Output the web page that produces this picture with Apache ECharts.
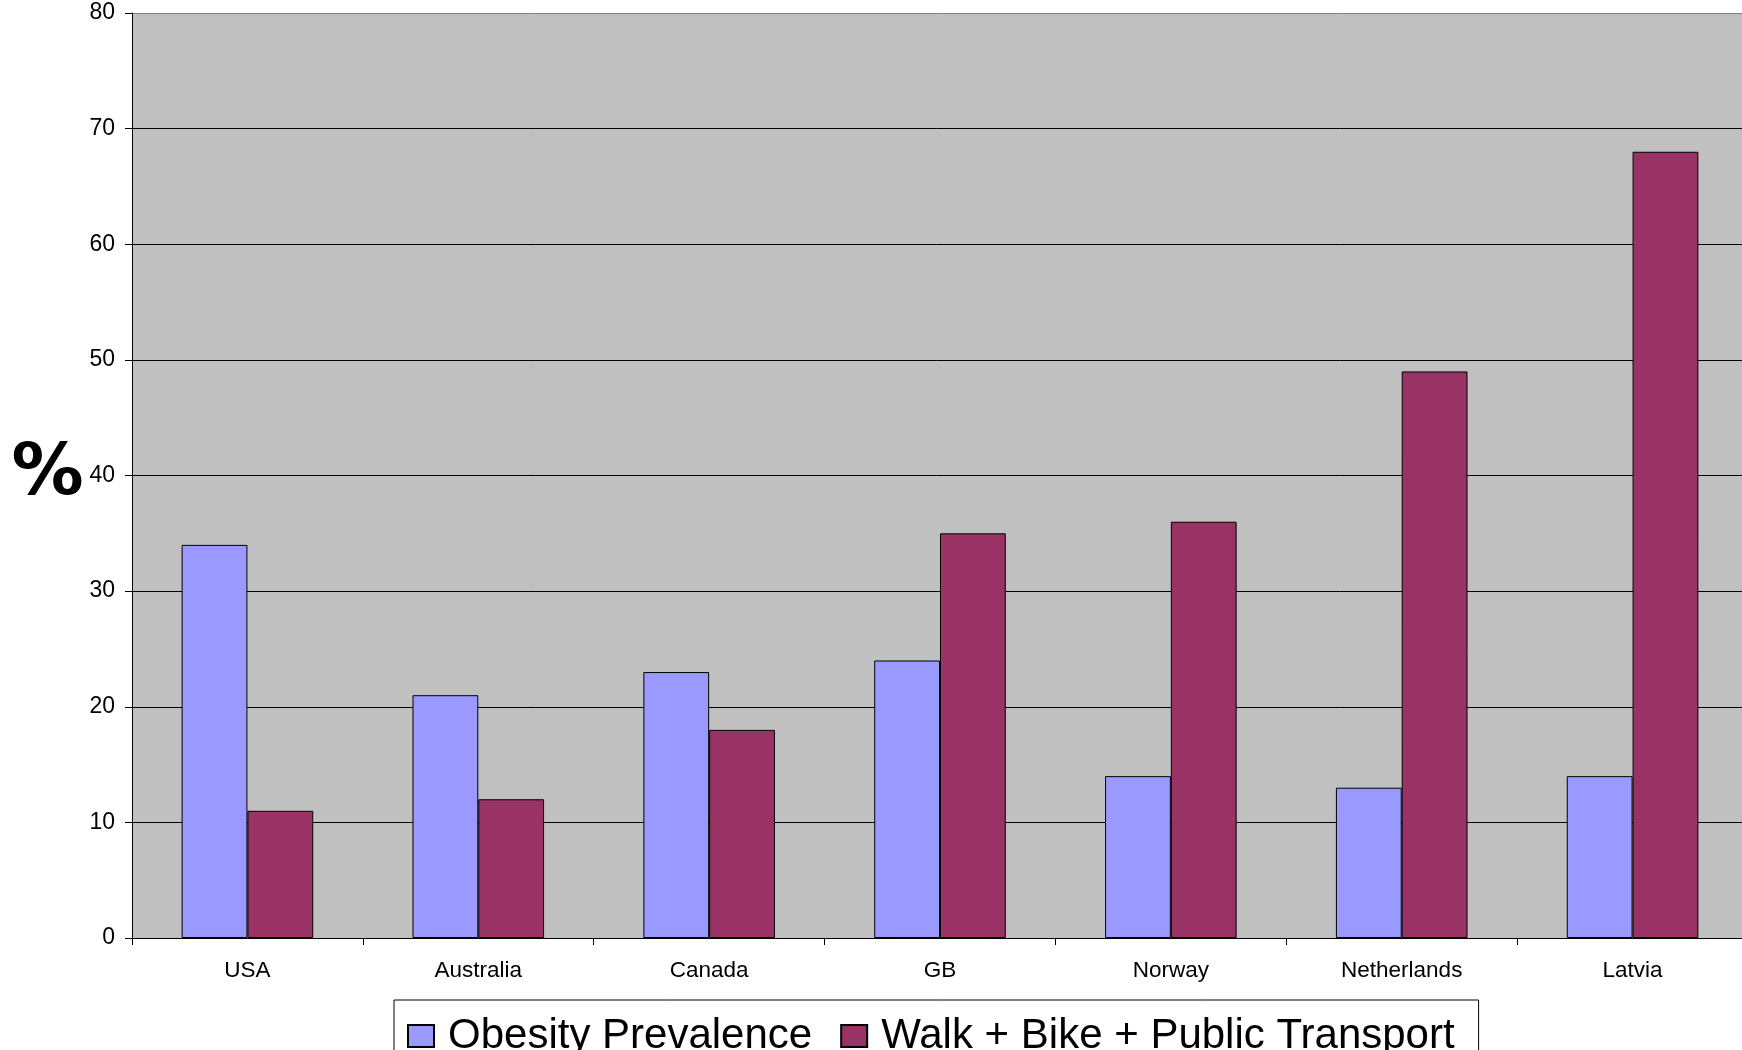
<!DOCTYPE html>
<html>
<head>
<meta charset="utf-8">
<script src="https://cdn.jsdelivr.net/npm/echarts@6/dist/echarts.min.js"></script>
<style>
html,body{margin:0;padding:0;background:#fff;}
#chart{width:1742px;height:1050px;}
</style>
</head>
<body>
<div id="chart"></div>
<script>
var categories = ['USA', 'Australia', 'Canada', 'GB', 'Norway', 'Netherlands', 'Latvia'];
var obesity = [34, 21, 23, 24, 14, 13, 14];
var activeTravel = [11, 12, 18, 35, 36, 49, 68];
var seriesNames = ['Obesity Prevalence', 'Walk + Bike + Public Transport'];
var axisName = '%';

var chart = echarts.init(document.getElementById('chart'), null, {renderer: 'canvas'});
chart.setOption({
  animation: false,
  backgroundColor: '#ffffff',
  grid: {
    left: 132, right: -6, top: 13, bottom: 112,
    outerBoundsMode: 'none',
    containLabel: false,
    show: true, backgroundColor: '#C0C0C0', borderWidth: 0
  },
  legend: {
    left: 394, top: 1000,
    data: seriesNames,
    orient: 'horizontal',
    itemWidth: 26, itemHeight: 22, itemGap: 28,
    padding: [15, 24, 16, 13],
    borderColor: '#000', borderWidth: 1,
    backgroundColor: '#fff',
    icon: 'rect',
    textStyle: {fontFamily: 'Liberation Sans', fontSize: 42, color: '#000', padding: [0, 0, 0, 9]}
  },
  xAxis: {
    type: 'category',
    data: categories,
    axisLine: {lineStyle: {color: '#000', width: 1}},
    axisTick: {show: true, length: 7, lineStyle: {color: '#000'}},
    axisLabel: {fontFamily: 'Liberation Sans', fontSize: 22.5, color: '#000', margin: 21}
  },
  yAxis: {
    type: 'value',
    min: 0, max: 80, interval: 10,
    name: axisName,
    nameLocation: 'middle',
    nameRotate: 0,
    nameGap: 46,
    nameTextStyle: {fontFamily: 'DejaVu Sans', fontWeight: 'bold', fontSize: 72, color: '#000', padding: [12, 0, 0, 0]},
    axisLine: {show: true, lineStyle: {color: '#000', width: 1}},
    axisTick: {show: true, length: 7, lineStyle: {color: '#000'}},
    axisLabel: {fontFamily: 'Liberation Sans', fontSize: 23, color: '#000', margin: 17},
    splitLine: {show: true, lineStyle: {color: ['#000','#000','#000','#000','#000','#000','#000','#000','#808080'], width: 1}}
  },
  series: [
    {
      name: seriesNames[0], type: 'bar', data: obesity,
      barWidth: '28.5%', barGap: '0%',
      itemStyle: {color: '#9999FF', borderColor: '#000', borderWidth: 1}
    },
    {
      name: seriesNames[1], type: 'bar', data: activeTravel,
      barWidth: '28.5%', barGap: '0%',
      itemStyle: {color: '#993366', borderColor: '#000', borderWidth: 1}
    }
  ]
});
</script>
</body>
</html>
